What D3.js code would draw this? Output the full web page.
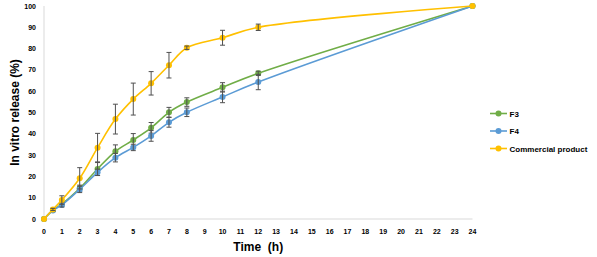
<!DOCTYPE html>
<html>
<head>
<meta charset="utf-8">
<script src="https://cdn.jsdelivr.net/npm/d3@7"></script>
<style>
  body { margin: 0; background: #fff; }
  svg text { font-family: "Liberation Sans", Arial, sans-serif; font-weight: bold; fill: #000; }
</style>
</head>
<body>
<div id="chart"></div>
<script>
// data
var times = [0, 0.5, 1, 2, 3, 4, 5, 6, 7, 8, 10, 12, 24];
var f3 = [0, 4.2, 7.0, 14.4, 23.5, 31.8, 37.1, 42.8, 50.1, 54.9, 61.8, 68.4, 100];
var f3Err = [0, 0.5, 1, 1.5, 3, 3, 3, 2.5, 2.3, 2, 2.2, 1, 0];
var f4 = [0, 4.0, 6.6, 13.9, 21.9, 28.8, 33.6, 39.0, 45.4, 50.1, 57.3, 64.3, 100];
var f4Err = [0, 0.5, 1, 1.5, 1.5, 2, 1.5, 2.5, 2.3, 2, 2.7, 3.6, 0];
var comm = [0, 4.5, 8.9, 19.1, 33.5, 46.9, 56.3, 63.7, 72.2, 80.4, 85.1, 90.0, 100];
var commErr = [0, 0.5, 2, 5, 6.7, 7, 7.5, 5.5, 6, 0.8, 3.5, 1.5, 0];
var seriesNames = ["F3", "F4", "Commercial product"];
var seriesColors = ["#70AD47", "#5B9BD5", "#FFC000"];
var xTicks = d3.range(0, 25);
var yTicks = d3.range(0, 101, 10);

var width = 597, height = 257;
var margin = {top: 6, left: 44, right: 125, bottom: 38};

var svg = d3.select("#chart").append("svg")
  .attr("width", width)
  .attr("height", height);

var x = d3.scaleLinear().domain([0, 24]).range([margin.left, 472.5]);
var y = d3.scaleLinear().domain([0, 100]).range([219, margin.top]);

// axis lines
svg.append("line")
  .attr("x1", x(0)).attr("x2", x(24))
  .attr("y1", y(0)).attr("y2", y(0))
  .attr("stroke", "#d9d9d9");
svg.append("line")
  .attr("x1", x(0)).attr("x2", x(0))
  .attr("y1", y(0)).attr("y2", y(100))
  .attr("stroke", "#d9d9d9");

// tick labels
svg.selectAll(".xt").data(xTicks).enter().append("text")
  .attr("x", function(d) { return x(d); })
  .attr("y", 233.5)
  .attr("text-anchor", "middle")
  .style("font-size", "7px")
  .text(function(d) { return d; });

svg.selectAll(".yt").data(yTicks).enter().append("text")
  .attr("x", 36)
  .attr("y", function(d) { return y(d) + 2.5; })
  .attr("text-anchor", "end")
  .style("font-size", "7px")
  .text(function(d) { return d; });

// axis titles
svg.append("text")
  .attr("x", x(12))
  .attr("y", 251)
  .attr("text-anchor", "middle")
  .style("font-size", "12px")
  .style("white-space", "pre")
  .text("Time  (h)");

svg.append("text")
  .attr("transform", "translate(19," + y(50) + ")rotate(-90)")
  .attr("text-anchor", "middle")
  .style("font-size", "12px")
  .text("In vitro release (%)");

var series = [
  {name: seriesNames[0], color: seriesColors[0], vals: f3, err: f3Err},
  {name: seriesNames[1], color: seriesColors[1], vals: f4, err: f4Err},
  {name: seriesNames[2], color: seriesColors[2], vals: comm, err: commErr}
];

var line = d3.line()
  .x(function(d) { return x(d.t); })
  .y(function(d) { return y(d.v); })
  .curve(d3.curveCatmullRom.alpha(0.5));

series.forEach(function(s) {
  var pts = times.map(function(t, i) { return {t: t, v: s.vals[i], e: s.err[i]}; });
  var g = svg.append("g");

  g.append("path")
    .datum(pts)
    .attr("d", line)
    .attr("fill", "none")
    .attr("stroke", s.color)
    .attr("stroke-width", 1.6);

  g.selectAll("circle").data(pts).enter().append("circle")
    .attr("cx", function(d) { return x(d.t); })
    .attr("cy", function(d) { return y(d.v); })
    .attr("r", 3)
    .attr("fill", s.color);

  // error bars
  var eb = g.selectAll(".eb").data(pts.filter(function(d) { return d.e > 0; })).enter().append("g")
    .attr("stroke", "#505050")
    .attr("stroke-width", 1);
  eb.append("line")
    .attr("x1", function(d) { return x(d.t); })
    .attr("x2", function(d) { return x(d.t); })
    .attr("y1", function(d) { return y(d.v - d.e); })
    .attr("y2", function(d) { return y(d.v + d.e); });
  eb.append("line")
    .attr("x1", function(d) { return x(d.t) - 2.5; })
    .attr("x2", function(d) { return x(d.t) + 2.5; })
    .attr("y1", function(d) { return y(d.v + d.e); })
    .attr("y2", function(d) { return y(d.v + d.e); });
  eb.append("line")
    .attr("x1", function(d) { return x(d.t) - 2.5; })
    .attr("x2", function(d) { return x(d.t) + 2.5; })
    .attr("y1", function(d) { return y(d.v - d.e); })
    .attr("y2", function(d) { return y(d.v - d.e); });
});

// legend
var legend = svg.selectAll(".lg").data(series).enter().append("g")
  .attr("transform", function(d, i) { return "translate(490," + (113.5 + i * 17.5) + ")"; });
legend.append("line")
  .attr("x1", 0).attr("x2", 17)
  .attr("stroke", function(d) { return d.color; })
  .attr("stroke-width", 1.6);
legend.append("circle")
  .attr("cx", 8.5).attr("r", 3)
  .attr("fill", function(d) { return d.color; });
legend.append("text")
  .attr("x", 19.5)
  .attr("y", 3)
  .style("font-size", "8px")
  .text(function(d) { return d.name; });
</script>
</body>
</html>
